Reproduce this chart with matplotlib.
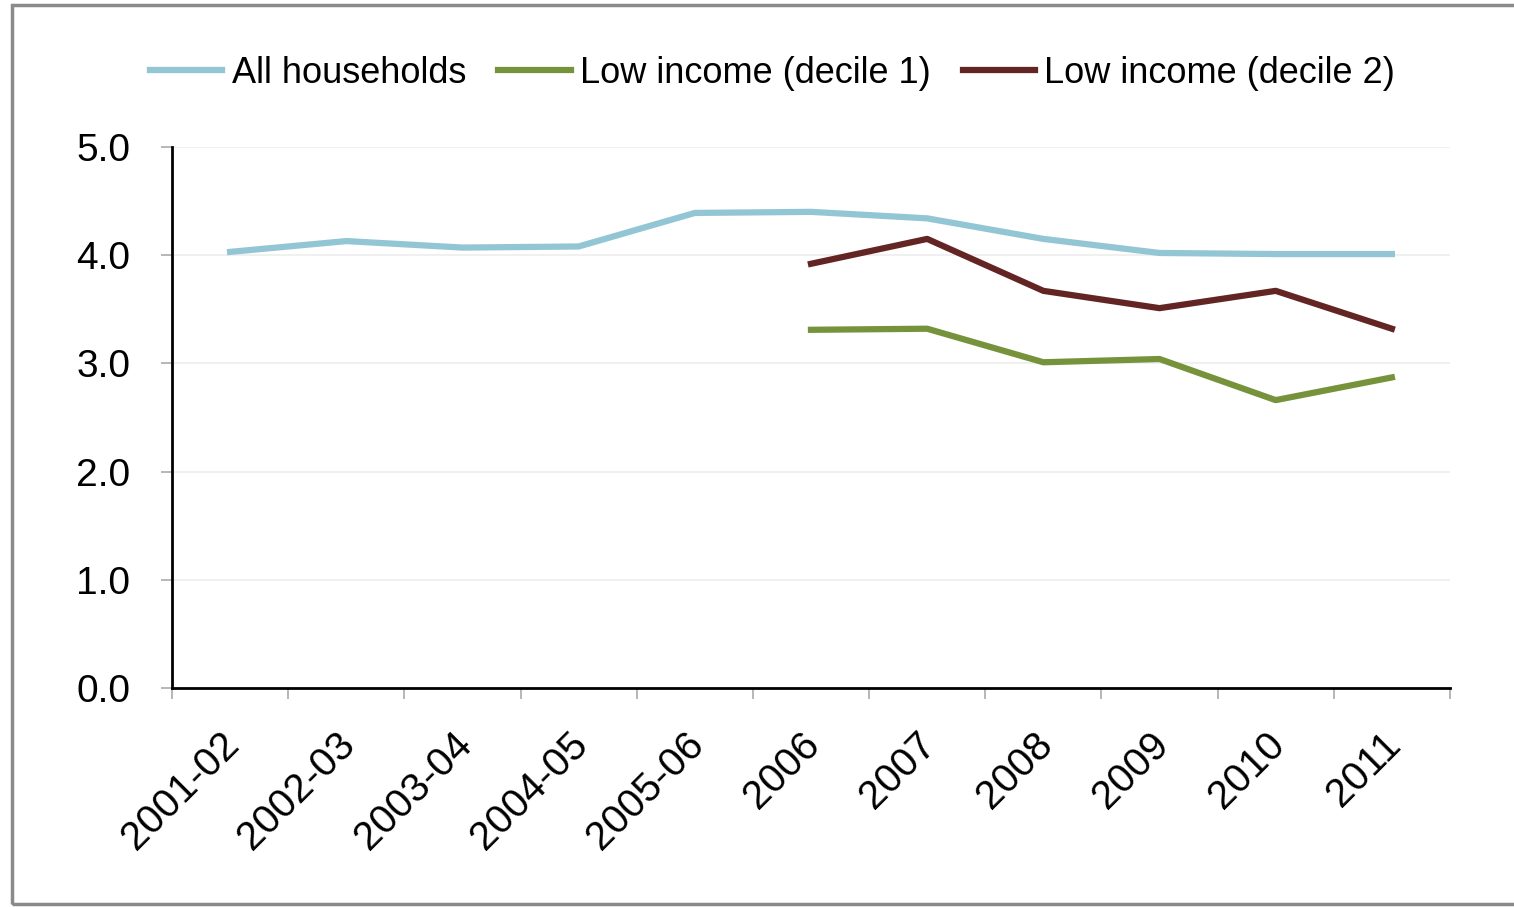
import numpy as np
import matplotlib
matplotlib.use("Agg")
import matplotlib.pyplot as plt
from matplotlib.patches import Rectangle

# data
years = ['2001-02', '2002-03', '2003-04', '2004-05', '2005-06',
         '2006', '2007', '2008', '2009', '2010', '2011']
all_households = [4.03, 4.13, 4.07, 4.08, 4.39, 4.40, 4.34, 4.15, 4.02, 4.01, 4.01]
decile1 = [None, None, None, None, None, 3.31, 3.32, 3.01, 3.04, 2.66, 2.87]
decile2 = [None, None, None, None, None, 3.92, 4.15, 3.67, 3.51, 3.67, 3.32]

plt.rcParams['font.family'] = ['Liberation Sans', 'DejaVu Sans']

fig = plt.figure(figsize=(15.14, 9.07), dpi=100)
ax = fig.add_axes([0.1136, 0.2415, 0.8441, 0.5965])

x = np.arange(len(years))
d1 = np.array([np.nan if v is None else v for v in decile1])
d2 = np.array([np.nan if v is None else v for v in decile2])

ax.plot(x, all_households, color='#93c6d5', lw=4.5, label='All households')
ax.plot(x, d1, color='#76933c', lw=4.5, label='Low income (decile 1)')
ax.plot(x, d2, color='#632523', lw=4.5, label='Low income (decile 2)')

ax.set_xlim(-0.5, len(years) - 0.5)
ax.set_ylim(0, 5)
yt = np.arange(0, 5.01, 1.0)
ax.set_yticks(yt)
ax.set_yticklabels(['%.1f' % v for v in yt], fontsize=28)
# labels sit a bit left of the category centre, like the original
ax.set_xticks(x - 0.09)
ax.set_xticklabels(years, fontsize=29, rotation=45, ha='right', rotation_mode='anchor')
ax.tick_params(axis='x', which='major', length=0, pad=27)
ax.set_xticks(np.arange(-0.5, len(years), 1.0), minor=True)
ax.tick_params(axis='x', which='minor', length=8, color='#aaaaaa', width=1.2)
ax.tick_params(axis='y', length=8, color='#aaaaaa', width=1.2, pad=22)

ax.grid(axis='y', color='#eeeeee', lw=1.2)
ax.set_axisbelow(True)
for s in ['top', 'right']:
    ax.spines[s].set_visible(False)
for s in ['left', 'bottom']:
    ax.spines[s].set_linewidth(2)
    ax.spines[s].set_color('black')

ax.legend(loc='center', bbox_to_anchor=(0.47, 1.136), ncol=3, frameon=False,
          fontsize=26, handlelength=2.0, handletextpad=0.25, columnspacing=0.9)

fig.patches.append(Rectangle((0.008, 0.003), 1.2, 0.991, transform=fig.transFigure,
                             fill=False, edgecolor='#8a8a8a', lw=2.5))

fig.savefig('out.png', dpi=100)
